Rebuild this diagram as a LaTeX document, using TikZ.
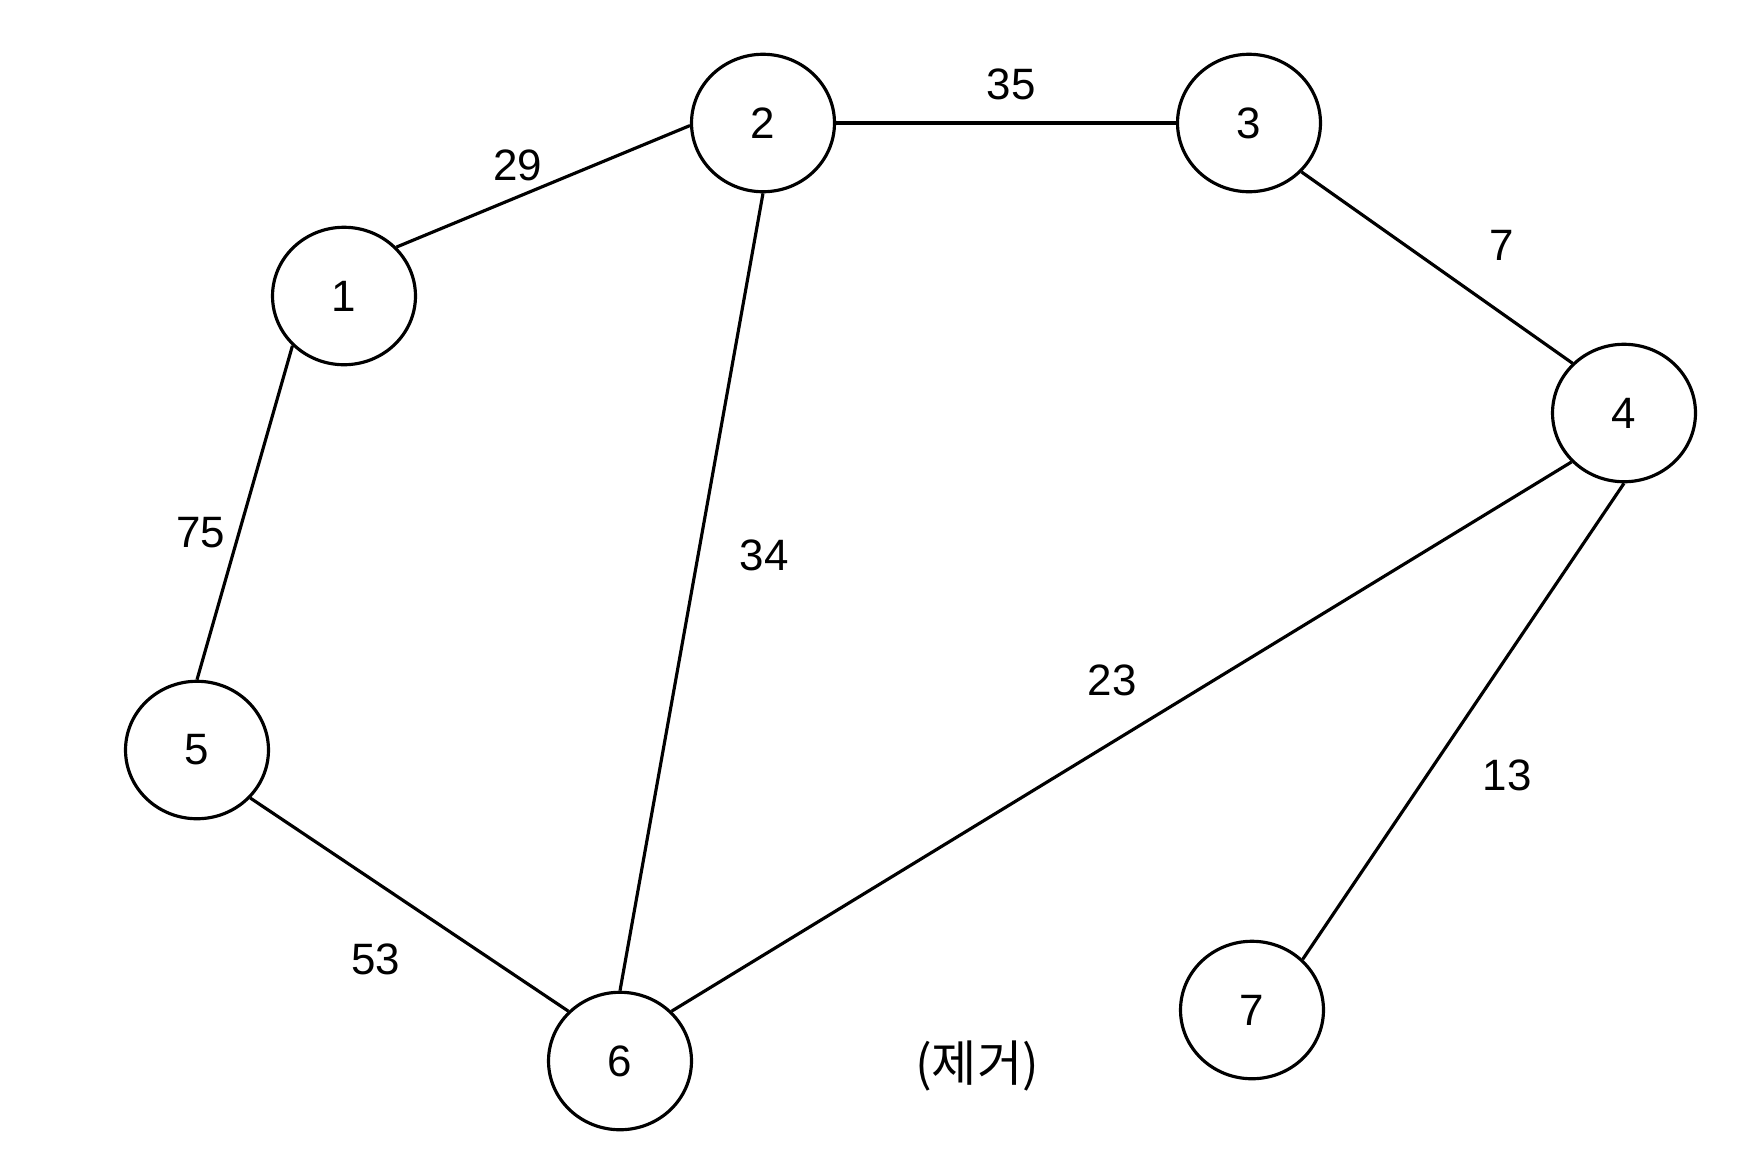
\documentclass[tikz,border=0pt]{standalone}
\usepackage{fontspec}
\setmainfont{Liberation Sans}
\newfontfamily\kofont{Noto Sans CJK KR}
\usetikzlibrary{shapes.geometric}
\begin{document}
\begin{tikzpicture}[x=0.02cm,y=-0.02cm,line width=1.8pt,
    vertex/.style={ellipse,draw,minimum width=2.86cm,minimum height=2.75cm,inner sep=0pt},
    every node/.style={font=\fontsize{25}{30}\selectfont}]
   \useasboundingbox (0,0) rectangle (1748,1174);
   \foreach \n/\x/\y in
     {1/344/296,
      2/763/123,
      3/1249/123,
      4/1624/413,
      5/197/750,
      6/620/1061,
      7/1252/1010
     }
     \node[vertex] (n\n) at (\x,\y) {\n};
   \foreach \a/\p/\b/\q in
     {1/43/2/182,
      2/0/3/180,
      3/-43/4/136,
      1/224/5/90,
      2/-90/6/90,
      4/223/6/44,
      4/-90/7/45,
      5/-42/6/136
     }
     \draw (n\a.\p) -- (n\b.\q);
   \foreach \x/\y/\l in
     { 518/165/29,
      1011/84/35,
      1502/245/7,
       201/533/75,
       764/555/34,
      1112/680/23,
      1507/775/13,
       376/959/53
     }
     \node (w\l) at (\x,\y) {\l};
   \node[font=\kofont\fontsize{28}{32}\selectfont] (removed) at (977,1066) {(제거)};
\end{tikzpicture}
\end{document}
